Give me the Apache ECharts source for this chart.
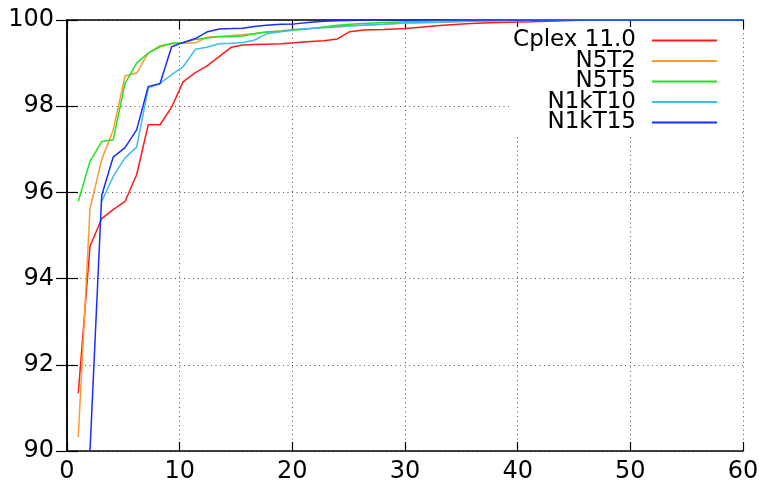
<!DOCTYPE html>
<html>
<head>
<meta charset="utf-8">
<script src="https://cdn.jsdelivr.net/npm/echarts@6/dist/echarts.min.js"></script>
<style>
  html, body { margin: 0; padding: 0; background: #fff; }
  #chart { width: 764px; height: 484px; }
</style>
</head>
<body>
<div id="chart"></div>
<script>
// x positions of the samples (shared by all curves)
const xs = [1.0, 2.04, 3.08, 4.1, 5.15, 6.18, 7.21, 8.25, 9.29, 10.32,
  11.4, 12.4, 13.5, 14.6, 15.6, 16.6, 17.7, 19.0, 20.2, 21.6,
  22.8, 24.0, 25.1, 26.3, 28.1, 30.1, 33.1, 35.8, 38.2, 41.2,
  46.2, 52, 60];

const cplex = [91.34, 94.75, 95.39, 95.6, 95.79, 96.41, 97.57, 97.57, 97.98, 98.57,
  98.78, 98.93, 99.15, 99.37, 99.42, 99.43, 99.44, 99.45, 99.47, 99.5,
  99.52, 99.56, 99.73, 99.77, 99.78, 99.8, 99.87, 99.92, 99.94, 99.96,
  100, 100, 100];

const n5t2 = [90.32, 95.62, 96.76, 97.45, 98.7, 98.77, 99.23, 99.4, 99.45, 99.46,
  99.47, 99.6, 99.62, 99.64, 99.66, 99.68, 99.72, 99.75, 99.78, 99.8,
  99.83, 99.86, 99.87, 99.88, 99.9, 99.93, 99.95, 99.97, 99.98, 100,
  100, 100, 100];

const n5t5 = [95.79, 96.72, 97.18, 97.22, 98.53, 99.0, 99.23, 99.38, 99.46, 99.47,
  99.55, 99.58, 99.61, 99.62, 99.63, 99.68, 99.72, 99.74, 99.76, 99.8,
  99.84, 99.88, 99.9, 99.92, 99.94, 99.96, 99.98, 100, 100, 100,
  100, 100, 100];

const n1kt10 = [null, null, 95.79, 96.37, 96.8, 97.05, 98.42, 98.53, 98.73, 98.92,
  99.32, 99.37, 99.45, 99.46, 99.48, 99.53, 99.68, 99.73, 99.78, 99.8,
  99.82, 99.84, 99.86, 99.88, 99.9, 99.93, 99.95, 99.97, 99.98, 100,
  100, 100, 100];

const n1kt15 = [null, 90.0, 95.93, 96.82, 97.04, 97.45, 98.46, 98.52, 99.38, 99.48,
  99.57, 99.72, 99.79, 99.8, 99.81, 99.85, 99.88, 99.9, 99.91, 99.95,
  99.97, 99.98, 99.99, 100, 100, 100, 100, 100, 100, 100,
  100, 100, 100];

const names = ['Cplex 11.0', 'N5T2', 'N5T5', 'N1kT10', 'N1kT15'];
const values = [cplex, n5t2, n5t5, n1kt10, n1kt15];
const colors = ['#ff1a1a', '#ff9933', '#1ee61e', '#3cbcf0', '#1a2cff'];

const xTicks = { min: 0, max: 60, interval: 10 };
const yTicks = { min: 90, max: 100, interval: 2 };

const font = 'DejaVu Sans, Liberation Sans, sans-serif';
const border = { show: true, lineStyle: { color: '#000', width: 1.5 } };
const dotted = { show: true, lineStyle: { color: '#555', width: 1, type: [1, 3.5] } };
const tick = (len) => ({ inside: true, length: len, lineStyle: { color: '#000', width: 1.2 } });

const chart = echarts.init(document.getElementById('chart'));
chart.setOption({
  animation: false,
  textStyle: { fontFamily: font },
  grid: { left: 67, right: 21, top: 20, bottom: 32 },
  legend: {
    orient: 'vertical',
    right: 21,
    top: 27,
    align: 'right',
    itemWidth: 65,
    itemHeight: 20,
    itemGap: -2.5,
    padding: [2, 25, 0, 3],
    backgroundColor: '#fff',
    itemStyle: { opacity: 0 },
    textStyle: { fontSize: 23, color: '#000', padding: [0, 11, 0, 0], fontFamily: font },
    data: names
  },
  xAxis: [
    {
      type: 'value', position: 'bottom', ...xTicks,
      axisLine: border, axisTick: tick(9),
      axisLabel: { fontSize: 24, color: '#000', margin: 9 },
      splitLine: dotted
    },
    {
      type: 'value', position: 'top', ...xTicks,
      axisLine: border, axisTick: tick(9),
      axisLabel: { show: false },
      splitLine: { show: false }
    }
  ],
  yAxis: [
    {
      type: 'value', position: 'left', ...yTicks,
      axisLine: border, axisTick: tick(11),
      axisLabel: { fontSize: 24, color: '#000', margin: 13 },
      splitLine: dotted
    },
    {
      type: 'value', position: 'right', ...yTicks,
      axisLine: border, axisTick: tick(11),
      axisLabel: { show: false },
      splitLine: { show: false }
    }
  ],
  series: names.map((name, i) => ({
    name: name,
    type: 'line',
    xAxisIndex: 0,
    yAxisIndex: 0,
    symbol: 'none',
    color: colors[i],
    lineStyle: { color: colors[i], width: 1.5 },
    data: xs.map((x, j) => [x, values[i][j]])
  }))
});
</script>
</body>
</html>
